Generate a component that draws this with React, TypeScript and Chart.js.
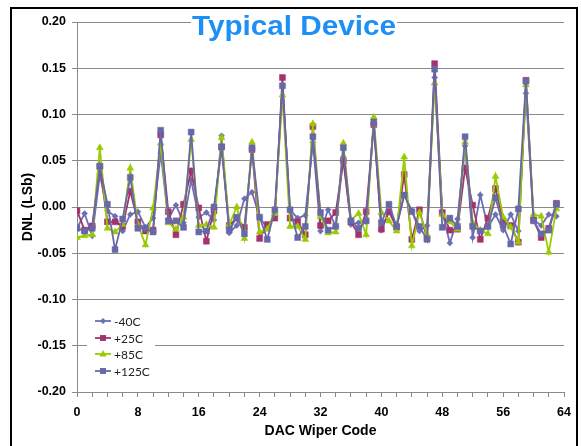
import React, { useEffect, useRef } from "react";
import { Chart, registerables } from "chart.js";

Chart.register(...registerables);

const codes = [
  0, 1, 2, 3, 4, 5, 6, 7, 8, 9, 10, 11, 12, 13, 14, 15,
  16, 17, 18, 19, 20, 21, 22, 23, 24, 25, 26, 27, 28, 29, 30, 31,
  32, 33, 34, 35, 36, 37, 38, 39, 40, 41, 42, 43, 44, 45, 46, 47,
  48, 49, 50, 51, 52, 53, 54, 55, 56, 57, 58, 59, 60, 61, 62, 63,
];

const seriesNames = ["-40C", "+25C", "+85C", "+125C"];

const dnlM40 = [
  -0.023, -0.007, -0.031, 0.035, -0.004, -0.01, -0.026, -0.008, -0.005, -0.022, -0.012, 0.058, -0.013, 0.002, -0.017, 0.029,
  -0.011, -0.006, -0.014, 0.077, -0.028, -0.02, 0.009, 0.016, -0.011, -0.023, -0.007, 0.131, -0.003, -0.012, -0.009, 0.07,
  -0.026, -0.003, -0.021, 0.054, -0.019, -0.017, -0.016, 0.09, -0.025, -0.005, -0.021, 0.013, -0.004, -0.026, -0.02, 0.14,
  -0.005, -0.039, -0.013, 0.066, -0.033, 0.013, -0.022, -0.008, -0.025, -0.008, -0.026, 0.123, -0.014, -0.02, -0.008, -0.01,
];

const dnlP25 = [
  -0.004, -0.025, -0.0205, 0.044, -0.016, -0.016, -0.021, 0.017, -0.016, -0.026, -0.025, 0.078, -0.005, -0.03, 0.003, 0.039,
  -0.001, -0.037, -0.004, 0.065, -0.02, -0.012, -0.022, 0.062, -0.034, -0.019, -0.012, 0.14, -0.012, -0.016, -0.03, 0.087,
  -0.02, -0.015, -0.006, 0.05, -0.016, -0.03, -0.005, 0.089, -0.024, -0.005, -0.022, 0.035, -0.035, -0.003, -0.034, 0.155,
  -0.006, -0.025, -0.024, 0.042, 0.002, -0.035, -0.012, 0.02, -0.015, -0.02, -0.038, 0.137, -0.014, -0.033, -0.023, 0.004,
];

const dnlP85 = [
  -0.033, -0.031, -0.03, 0.064, -0.023, -0.027, -0.019, 0.042, -0.019, -0.041, -0.001, 0.069, -0.017, -0.024, -0.011, 0.073,
  -0.02, -0.019, -0.022, 0.075, -0.019, 0.0, -0.034, 0.07, -0.027, -0.024, -0.007, 0.121, -0.021, -0.021, -0.035, 0.09,
  -0.01, -0.028, -0.027, 0.069, -0.014, -0.007, -0.03, 0.097, -0.006, -0.015, -0.026, 0.054, -0.042, -0.006, -0.03, 0.134,
  -0.008, -0.016, -0.024, 0.07, -0.017, -0.025, -0.029, 0.033, -0.011, -0.022, -0.038, 0.132, -0.008, -0.01, -0.049, -0.002,
];

const dnlP125 = [
  -0.023, -0.026, -0.023, 0.044, 0.003, -0.046, -0.013, 0.032, -0.023, -0.023, -0.027, 0.083, -0.015, -0.015, -0.022, 0.081,
  -0.027, -0.026, 0.0, 0.065, -0.025, -0.011, -0.029, 0.064, -0.011, -0.035, -0.003, 0.131, -0.003, -0.033, -0.021, 0.076,
  -0.006, -0.025, -0.021, 0.064, -0.015, -0.023, -0.015, 0.092, -0.017, 0.003, -0.021, 0.013, -0.005, -0.021, -0.035, 0.149,
  -0.022, -0.012, -0.021, 0.076, -0.021, -0.026, -0.021, 0.01, -0.02, -0.04, -0.002, 0.136, -0.015, -0.029, -0.025, 0.003,
];

const chartTitle = "Typical Device";
const xTitle = "DAC Wiper Code";
const yTitle = "DNL (LSb)";

const colors = ["#6b6fb3", "#a3336e", "#9acb00", "#6668a8"];
const styles = ["rectRot", "rect", "triangle", "rect"];
const radii = [3, 4.2, 4, 4.2];

function drawMarker(ctx: CanvasRenderingContext2D, style: string, x: number, y: number, r: number, color: string) {
  ctx.save();
  ctx.fillStyle = color;
  ctx.beginPath();
  if (style === "rect") {
    const s = r * Math.SQRT1_2;
    ctx.rect(x - s, y - s, 2 * s, 2 * s);
  } else if (style === "rectRot") {
    ctx.moveTo(x, y - r);
    ctx.lineTo(x + r, y);
    ctx.lineTo(x, y + r);
    ctx.lineTo(x - r, y);
    ctx.closePath();
  } else {
    ctx.moveTo(x, y - r);
    ctx.lineTo(x + r * 0.9, y + r * 0.6);
    ctx.lineTo(x - r * 0.9, y + r * 0.6);
    ctx.closePath();
  }
  ctx.fill();
  ctx.restore();
}

const overlayPlugin = {
  id: "overlay",
  afterDraw(chart: any) {
    const ctx: CanvasRenderingContext2D = chart.ctx;
    // Title with white background
    ctx.save();
    ctx.font = "bold 27px 'Liberation Sans', Arial, sans-serif";
    const w = ctx.measureText(chartTitle).width;
    const targetW = 204;
    const cx = 294;
    const cy = 28;
    ctx.fillStyle = "#ffffff";
    ctx.fillRect(cx - targetW / 2 - 1, cy - 15, targetW + 2, 30);
    ctx.translate(cx, cy);
    ctx.scale(targetW / w, 1);
    ctx.fillStyle = "#1e8ff5";
    ctx.textAlign = "center";
    ctx.textBaseline = "middle";
    ctx.fillText(chartTitle, 0, 0);
    ctx.restore();

    // Legend
    ctx.save();
    ctx.fillStyle = "#ffffff";
    ctx.fillRect(87, 312, 68, 67);
    const rowY = [321, 338, 354, 371];
    ctx.font = "12px Lato, 'Liberation Sans', sans-serif";
    ctx.textBaseline = "middle";
    ctx.textAlign = "left";
    for (let i = 0; i < seriesNames.length; i++) {
      const y = rowY[i];
      ctx.strokeStyle = colors[i];
      ctx.lineWidth = 1.8;
      ctx.beginPath();
      ctx.moveTo(95, y);
      ctx.lineTo(111, y);
      ctx.stroke();
      drawMarker(ctx, styles[i], 103, y, radii[i], colors[i]);
      ctx.fillStyle = "#222222";
      ctx.fillText(seriesNames[i], 114, y + 1);
    }
    ctx.restore();
  },
};

export default function App() {
  const canvasRef = useRef<HTMLCanvasElement | null>(null);

  useEffect(() => {
    if (!canvasRef.current) return;
    const series = [dnlM40, dnlP25, dnlP85, dnlP125];
    const datasets = series.map((vals, i) => ({
      label: seriesNames[i],
      data: codes.map((c, k) => ({ x: c, y: vals[k] })),
      borderColor: colors[i],
      backgroundColor: colors[i],
      borderWidth: 1.8,
      pointStyle: styles[i],
      pointRadius: radii[i],
      pointBorderWidth: 0.5,
      pointBorderColor: colors[i],
      pointBackgroundColor: colors[i],
      tension: 0,
      order: 3 - i,
    }));
    const font = "'Liberation Sans', Arial, sans-serif";
    const chart = new Chart(canvasRef.current, {
      type: "line",
      data: { datasets },
      plugins: [overlayPlugin],
      options: {
        animation: false,
        responsive: true,
        maintainAspectRatio: false,
        layout: { padding: { top: 22, right: 17, left: 0, bottom: 0 } },
        plugins: {
          legend: { display: false },
          tooltip: { enabled: false },
          title: { display: false },
        },
        scales: {
          x: {
            type: "linear",
            min: 0,
            max: 64,
            afterFit: (s: any) => {
              s.height = 54;
            },
            ticks: {
              stepSize: 2,
              autoSkip: false,
              maxRotation: 0,
              padding: 8,
              color: "#000000",
              font: { family: font, size: 12.5, weight: "bold" },
              callback: (v: any) => (Number(v) % 8 === 0 ? String(v) : ""),
            },
            grid: {
              drawOnChartArea: false,
              drawTicks: true,
              tickLength: 5,
              color: "#8a8a8a",
            },
            border: { color: "#8a8a8a", width: 1 },
            title: {
              display: true,
              text: xTitle,
              color: "#000000",
              font: { family: font, size: 14, weight: "bold" },
              padding: { top: 0, bottom: 6 },
            },
          },
          y: {
            min: -0.2,
            max: 0.2,
            afterFit: (s: any) => {
              s.width = 77;
            },
            ticks: {
              stepSize: 0.05,
              padding: 6,
              color: "#000000",
              font: { family: font, size: 12.5, weight: "bold" },
              callback: (v: any) => Number(v).toFixed(2),
            },
            grid: {
              color: "#8a8a8a",
              lineWidth: 1,
              tickLength: 5,
            },
            border: { color: "#8a8a8a", width: 1 },
            title: {
              display: true,
              text: yTitle,
              color: "#000000",
              font: { family: font, size: 14, weight: "bold" },
              padding: { top: 20, bottom: 0 },
            },
          },
        },
      } as any,
    });
    return () => chart.destroy();
  }, []);

  return (
    <div
      style={{
        position: "absolute",
        left: 0,
        top: 0,
        width: 581,
        height: 446,
        overflow: "hidden",
        background: "#ffffff",
      }}
    >
      <div style={{ position: "absolute", left: 0, top: 0, width: 581, height: 446 }}>
        <canvas ref={canvasRef} />
      </div>
      <div
        style={{
          position: "absolute",
          left: 10,
          top: 7,
          width: 564,
          height: 460,
          border: "2px solid #000000",
          pointerEvents: "none",
        }}
      />
    </div>
  );
}
